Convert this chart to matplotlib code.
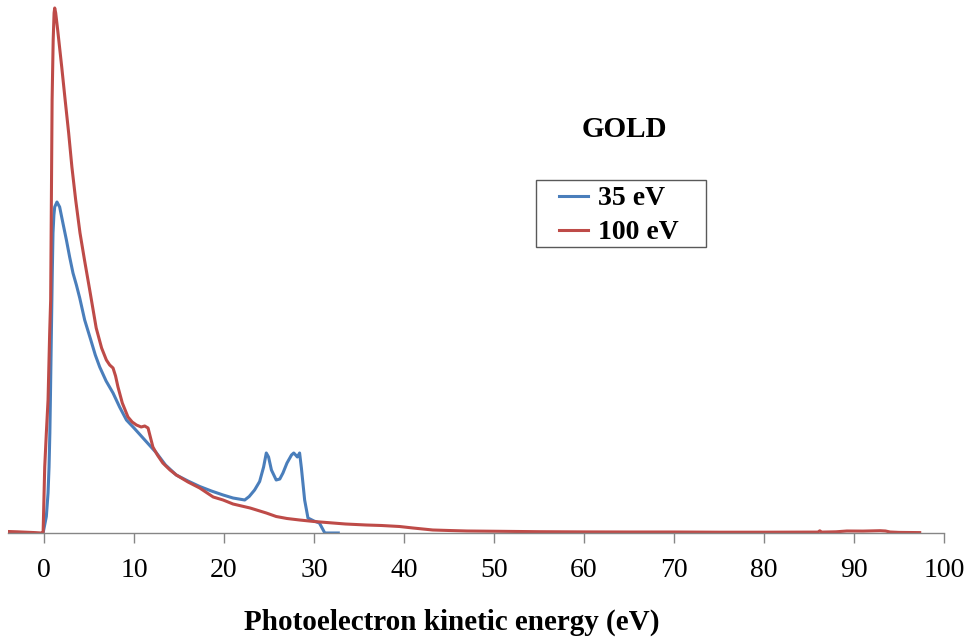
import matplotlib
matplotlib.use("Agg")
import matplotlib.pyplot as plt
from matplotlib.patches import Rectangle

plt.rcParams['font.family'] = ['Liberation Serif', 'DejaVu Serif']

# Data (intensity in arbitrary units)
# --------

red_x = [-4, -3, -2, -1, -0.3, -0.1, 0.08, 0.26, 0.45, 0.63, 0.74, 0.82, 0.9, 1.02, 1.12, 1.19,
         1.3, 1.52, 1.97, 2.35, 2.74, 3.1, 3.52, 4.0, 4.5, 5.08, 5.8, 6.4, 6.93, 7.3, 7.67, 7.95,
         8.22, 8.7, 9.33, 9.8, 10.27, 10.8, 11.19, 11.56, 12.1, 12.6, 13.2, 14.0, 14.7, 16.0,
         17.3, 18.8, 19.9, 21.0, 22.9, 24.7, 25.8, 27.0, 28.4, 30.0, 32.1, 33.5, 35.8, 37.5,
         39.5, 41.0, 43.2, 45, 47, 50.6, 55, 60, 65, 70, 75, 80, 85, 86.0, 86.2, 86.4, 88,
         89.2, 91, 92.9, 93.5, 94.0, 95, 97.3]
red_y = [1.5, 1.2, 0.8, 0.4, 0, 0, 66, 100, 133, 200, 233, 333, 433, 493, 520, 525,
         520, 503, 466, 433, 400, 366, 333, 300, 273, 243, 205, 185, 173, 168, 165, 157,
         146, 130, 116, 111, 108, 106, 107, 105, 86, 78, 70, 63, 58, 51,
         45, 36, 33, 29, 25, 20, 16.5, 14.5, 13, 11.5, 10, 9, 8, 7.5,
         6.5, 5, 3, 2.5, 2, 1.7, 1.3, 1.1, 1, 1, 0.8, 0.8, 0.9, 0.9, 2.2, 0.9, 1.2,
         2, 1.9, 2.3, 2.0, 1, 0.6, 0.4]

blue_x = [-0.1, 0.26, 0.45, 0.56, 0.65, 0.71, 0.82, 0.92, 1.0, 1.1, 1.19, 1.44, 1.74, 2.1,
          2.49, 2.85, 3.22, 3.6, 3.97, 4.52, 5.2, 5.7, 6.19, 6.9, 7.67, 8.4, 9.16, 10.0, 11.0,
          11.8, 12.5, 13.5, 14.7, 16.0, 17.3, 18.6, 19.9, 21.0, 22.3, 22.8, 23.4, 23.96, 24.4,
          24.7, 24.95, 25.27, 25.8, 26.2, 26.55, 27.0, 27.5, 27.75, 27.96, 28.15, 28.4, 28.6,
          28.96, 29.33, 30.0, 30.6, 31.2, 32.7]
blue_y = [0, 16.5, 40, 66, 100, 133, 200, 260, 300, 318, 326, 331, 326, 310,
          293, 276, 260, 248, 235, 213, 193, 178, 166, 152, 140, 126, 113, 105, 95,
          87, 80, 68, 58, 52, 46.5, 42, 38, 35, 33, 36.5, 43, 51.5, 66,
          80, 76, 63, 53, 54, 60, 70, 78, 80, 78, 76, 80, 65,
          33, 15, 12, 10, 0, 0]

ticks = [0, 10, 20, 30, 40, 50, 60, 70, 80, 90, 100]

# Draw Plot
# ---------

fig = plt.figure(figsize=(9.66, 6.39), dpi=100)
ax = fig.add_axes([8 / 966, 106 / 639, 936 / 966, 533 / 639])

ax.plot(blue_x, blue_y, color='#4A7EBB', lw=2.2, label='35 eV')
ax.plot(red_x, red_y, color='#BE4B48', lw=2.2, label='100 eV')

ax.set_xlim(-4, 100)
ax.set_ylim(0, 533)
ax.set_xticks(ticks)
ax.set_yticks([])
for s in ['top', 'right', 'left']:
    ax.spines[s].set_visible(False)
ax.spines['bottom'].set_color('#868686')
ax.spines['bottom'].set_linewidth(1)
ax.tick_params(axis='x', direction='out', length=7.5, width=1, color='#868686',
               labelsize=20, pad=10.5)

fig.text(452 / 966, (639 - 630) / 639, 'Photoelectron kinetic energy (eV)',
         ha='center', va='baseline', fontsize=21, fontweight='bold')
fig.text(624 / 966, (639 - 137) / 639, 'GOLD', ha='center', va='baseline',
         fontsize=21, fontweight='bold')

# legend box drawn on its own (wide side padding like the original)
fig.patches.append(Rectangle((536 / 966, 1 - 247 / 639), 170 / 966, 67 / 639,
                             transform=fig.transFigure, fill=False,
                             edgecolor='#595959', linewidth=1))
leg = ax.legend(loc='upper left', bbox_to_anchor=(559 / 966, 1 - 186 / 639),
                bbox_transform=fig.transFigure, borderaxespad=0, frameon=False,
                prop={'weight': 'bold', 'size': 20}, handlelength=1.05,
                handletextpad=0.35, borderpad=0, labelspacing=0.3)

fig.savefig('out.png', dpi=100)
